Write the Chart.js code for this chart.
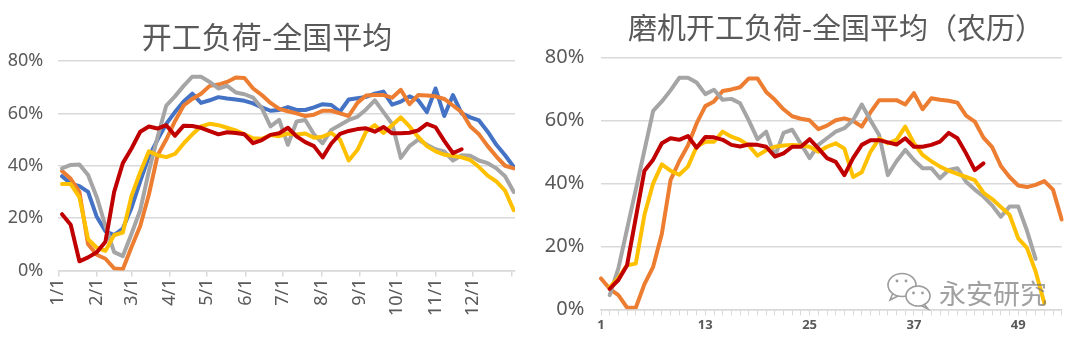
<!DOCTYPE html>
<html>
<head>
<meta charset="utf-8">
<script src="https://cdn.jsdelivr.net/npm/chart.js@4.4.0/dist/chart.umd.min.js"></script>
<style>
  html, body { margin: 0; padding: 0; background: #fff; }
  body { width: 1080px; height: 340px; position: relative; overflow: hidden; }
  .panel { position: absolute; top: 0; width: 540px; height: 340px; }
  .panel canvas { display: block; }
  .title { position: absolute; font-family: "Noto Sans CJK SC", sans-serif; color: #595959;
           white-space: nowrap; line-height: 1; transform: translateX(-50%); }
</style>
</head>
<body>
<div class="panel" style="left:0"><canvas id="yearChart" width="540" height="340"></canvas></div>
<div class="panel" style="left:540px"><canvas id="lunarChart" width="540" height="340"></canvas></div>
<div class="title" style="left:267px; top:20px; font-size:30px">开工负荷-全国平均</div>
<div class="title" style="left:836px; top:12px; font-size:29px">磨机开工负荷-全国平均（农历）</div>

<script>
// ---- calendar year, weekly readings (day of year, 0 = Jan 1) ----
const readingDay = [3, 10, 17, 24, 31, 38, 45, 52, 59, 66, 73, 80, 87, 94, 101, 108, 115, 122,
  129, 136, 143, 150, 157, 164, 171, 178, 185, 192, 199, 206, 213, 220, 227, 234, 241, 248,
  255, 262, 269, 276, 283, 290, 297, 304, 311, 318, 325, 332, 339, 346, 353, 360, 367];
const monthStart = [0, 31, 59, 90, 120, 151, 181, 212, 243, 273, 304, 334, 365];
const monthLabels = ['1/1', '2/1', '3/1', '4/1', '5/1', '6/1', '7/1', '8/1', '9/1', '10/1', '11/1', '12/1', ''];

// operating rate, % (one value per weekly reading)
const blueLoad = [36, 33.2, 32.2, 30, 20.5, 15, 13.5, 16, 24, 34, 43.5, 50, 56, 60.5, 64.5, 67.5,
  64, 65, 66.2, 65.7, 65.3, 64.8, 63.8, 62.3, 61, 61.3, 62.4, 61.3, 61.3, 62.3, 63.5, 63.2, 60.7,
  65.3, 65.8, 66.3, 67.5, 68.3, 63.3, 64.5, 66.5, 65, 60.5, 69.5, 59, 67, 60, 58.5, 57.3, 53, 48, 44, 39.5];
const orangeLoad = [38, 35, 30, 10, 6, 4.5, 0.8, 0.5, 9, 17, 29, 44, 50, 57, 63, 65.5, 67.5, 70.5,
  71, 72, 73.7, 73.5, 69.5, 67, 64, 61.7, 60.8, 60, 59, 59.5, 61, 61, 60, 59, 64, 66.8, 67, 67, 66,
  69, 63.5, 67, 66.8, 66.5, 65.5, 63, 60.5, 55, 52, 47.5, 43.5, 40, 39];
const grayLoad = [39, 40.3, 40.5, 36.5, 28, 17, 7, 5.5, 14, 23, 38, 51, 63, 66.5, 70.5, 74, 74, 72,
  69.5, 70.5, 68, 67.3, 66, 62, 55, 57.5, 48, 56.9, 57.5, 52, 48.6, 53.7, 55.6, 57.5, 58.7, 61.5,
  65, 60.5, 56, 43, 47.5, 50, 48, 46.3, 45.5, 42, 44, 43.8, 42, 41, 39, 36, 30];
const yellowLoad = [33, 33, 28, 12, 8.7, 7.5, 13.5, 14.5, 28.5, 37.5, 45.5, 44, 43.3, 44.5, 48.5, 52,
  55, 56, 55.5, 54.5, 53.5, 52, 50.5, 50.3, 51.7, 51.3, 52.3, 51.9, 52.3, 50.7, 51.1, 52.5, 50, 42,
  46, 53, 55.5, 52.5, 55.5, 58.5, 55, 51, 47.5, 45.5, 44.2, 43.8, 43.2, 42.2, 39.5, 36.2, 34, 30.5, 23];
const redLoad = [21.5, 17.5, 3.5, 5, 7, 11, 30, 41, 46.6, 53, 55, 54.2, 55.5, 51.5, 55.3, 55.2, 54.5,
  53.2, 52, 52.8, 52.5, 52, 48.6, 49.8, 51.8, 52.4, 54.5, 51.2, 49, 47.5, 43.2, 48.5, 52.2, 53.3,
  54, 54.3, 53, 54.8, 52.4, 52.4, 52.6, 53.5, 56, 54.7, 49.5, 44.8, 46.3];

// ---- lunar calendar, week number 1..54 ----
const lunarWeeks = Array.from({ length: 54 }, (_, i) => String(i + 1));
const orangeLunar = [9.8, 6.5, 4.5, 0.5, 0.5, 8, 13.5, 24, 41, 47, 52, 59, 64.5, 66, 69.3, 69.8, 70.5,
  73.3, 73.3, 69, 66.5, 63.5, 61.3, 60.5, 60, 57.2, 58.3, 60, 60.6, 59.8, 58, 62.5, 66.4, 66.4, 66.4,
  65, 68.6, 63.5, 67, 66.5, 66.2, 65.6, 61.5, 59.6, 54.5, 51.5, 45.5, 42, 39.3, 38.8, 39.5, 40.7, 38, 28.5];
const grayLunar = [null, 4.5, 13, 25.5, 38, 50.5, 63, 66, 69.5, 73.5, 73.5, 72, 68.3, 69.7, 66.5, 66.8,
  65.4, 60, 54, 56.4, 48.5, 56, 57, 52.5, 48, 52.2, 54.3, 56.4, 57.5, 60, 65, 60, 55.3, 42.6, 47,
  50.6, 47.4, 44.8, 44.8, 41.6, 44.2, 44.8, 40.5, 38, 35.8, 33, 29.4, 32.6, 32.6, 25, 16];
const yellowLunar = [null, 7, 10, 14, 14.5, 30, 40, 46, 44, 42.7, 45.3, 51.6, 53.2, 53.2, 56.4, 54.8,
  53.8, 52, 48.8, 50.5, 51.6, 52, 52.2, 52, 51.6, 50, 51.6, 52.7, 51, 42, 43.5, 50, 54.2, 52.7, 53.8,
  58, 52.7, 49, 47, 45.3, 44, 43, 42, 41, 37, 35, 32.5, 30, 22.5, 19.5, 12, 2];
const redLunar = [null, 6.5, 9.3, 14, 29, 44, 47.5, 52.7, 54.3, 53.8, 55, 51.3, 54.7, 54.6, 53.8, 52.2,
  51.7, 52.3, 52.2, 51.6, 48.5, 49.5, 51.6, 51.6, 54, 51.1, 48, 46.8, 42.6, 48, 52.2, 53.7, 53.7, 53,
  52.3, 54.3, 51.6, 51.6, 52.2, 53.2, 56, 54.3, 49.5, 44.2, 46.3];

const gridGray = '#d9d9d9';
const labelGray = '#595959';

Chart.defaults.font.family = '"Noto Sans", "Noto Sans CJK SC", sans-serif';
Chart.defaults.color = labelGray;

function line(values, color, xs) {
  return {
    data: xs ? values.map((v, i) => ({ x: xs[i], y: v })) : values,
    borderColor: color,
    backgroundColor: color,
    borderWidth: 4,
    pointRadius: 0,
    tension: 0,
    fill: false,
    borderJoinStyle: 'round',
    borderCapStyle: 'round',
    spanGaps: false
  };
}

const commonPlugins = { legend: { display: false }, tooltip: { enabled: false } };

// Calendar-year chart (first dataset is painted last, so red sits on top)
new Chart(document.getElementById('yearChart'), {
  type: 'line',
  data: {
    datasets: [
      line(redLoad, '#C00000', readingDay),
      line(yellowLoad, '#FFC000', readingDay),
      line(grayLoad, '#A5A5A5', readingDay),
      line(orangeLoad, '#ED7D31', readingDay),
      line(blueLoad, '#4472C4', readingDay)
    ]
  },
  options: {
    responsive: false,
    animation: false,
    layout: { padding: { top: 61, right: 25, left: 0, bottom: 0 } },
    plugins: commonPlugins,
    scales: {
      x: {
        type: 'linear',
        min: 0,
        max: 368,
        afterBuildTicks: s => { s.ticks = monthStart.map(v => ({ value: v })); },
        afterFit: s => { s.height = 69.5; },
        grid: { drawOnChartArea: false, color: gridGray, lineWidth: 1.5, tickLength: 6 },
        border: { color: gridGray, width: 1.5 },
        ticks: {
          autoSkip: false, minRotation: 90, maxRotation: 90, padding: 2,
          color: labelGray, font: { size: 18 },
          callback: (v, i) => monthLabels[i]
        }
      },
      y: {
        min: 0,
        max: 80,
        afterFit: s => { s.width = 58.3; },
        grid: { color: gridGray, lineWidth: 1.5, drawTicks: false },
        border: { display: false },
        ticks: { stepSize: 20, padding: 15, color: labelGray, font: { size: 18 }, callback: v => v + '%' }
      }
    }
  }
});

// Watermark: two chat bubbles and the account name
const watermark = {
  id: 'watermark',
  afterDraw(chart, args, opts) {
    const ctx = chart.ctx;
    ctx.save();
    ctx.strokeStyle = '#9c9c9c';
    ctx.lineWidth = 1.6;
    // back bubble
    ctx.beginPath();
    ctx.ellipse(362, 285, 14, 11.5, 0, 0, Math.PI * 2);
    ctx.fillStyle = '#fff';
    ctx.fill();
    ctx.stroke();
    ctx.beginPath();
    ctx.moveTo(353, 293); ctx.lineTo(350, 300); ctx.lineTo(358, 296);
    ctx.stroke();
    // front bubble
    ctx.beginPath();
    ctx.ellipse(378, 296, 12, 10, 0, 0, Math.PI * 2);
    ctx.fill();
    ctx.stroke();
    ctx.beginPath();
    ctx.moveTo(384, 304); ctx.lineTo(388, 309); ctx.lineTo(381, 305.5);
    ctx.stroke();
    // eyes
    ctx.fillStyle = '#9c9c9c';
    [[357, 281], [366, 281], [373.5, 293], [382.5, 293]].forEach(([x, y]) => {
      ctx.beginPath(); ctx.arc(x, y, 1.4, 0, Math.PI * 2); ctx.fill();
    });
    ctx.font = '27px "Noto Sans CJK SC"';
    ctx.fillStyle = 'rgba(120,120,120,0.7)';
    ctx.textBaseline = 'alphabetic';
    ctx.fillText(opts.text, 399, 304);
    ctx.restore();
  }
};

// Lunar-calendar chart
new Chart(document.getElementById('lunarChart'), {
  type: 'line',
  data: {
    labels: lunarWeeks,
    datasets: [
      line(redLunar, '#C00000'),
      line(yellowLunar, '#FFC000'),
      line(grayLunar, '#A5A5A5'),
      line(orangeLunar, '#ED7D31')
    ]
  },
  plugins: [watermark],
  options: {
    responsive: false,
    animation: false,
    layout: { padding: { top: 57.3, right: 18.3, left: 0, bottom: 0 } },
    plugins: Object.assign({ watermark: { text: '永安研究' } }, commonPlugins),
    scales: {
      x: {
        type: 'category',
        offset: false,
        afterFit: s => { s.height = 30.7; },
        grid: { drawOnChartArea: false, color: gridGray, lineWidth: 1, tickLength: 6, offset: false },
        border: { color: gridGray, width: 1.5 },
        ticks: {
          autoSkip: false, maxRotation: 0, minRotation: 0, padding: 2,
          color: labelGray, font: { size: 13, weight: 'bold' },
          callback: (v, i) => (i % 12 === 0 ? lunarWeeks[i] : '')
        }
      },
      y: {
        min: 0,
        max: 80,
        afterFit: s => { s.width = 61; },
        grid: { color: gridGray, lineWidth: 1.5, drawTicks: false },
        border: { display: false },
        ticks: { stepSize: 20, padding: 16.7, color: labelGray, font: { size: 20 }, callback: v => v + '%' }
      }
    }
  }
});
</script>
</body>
</html>
